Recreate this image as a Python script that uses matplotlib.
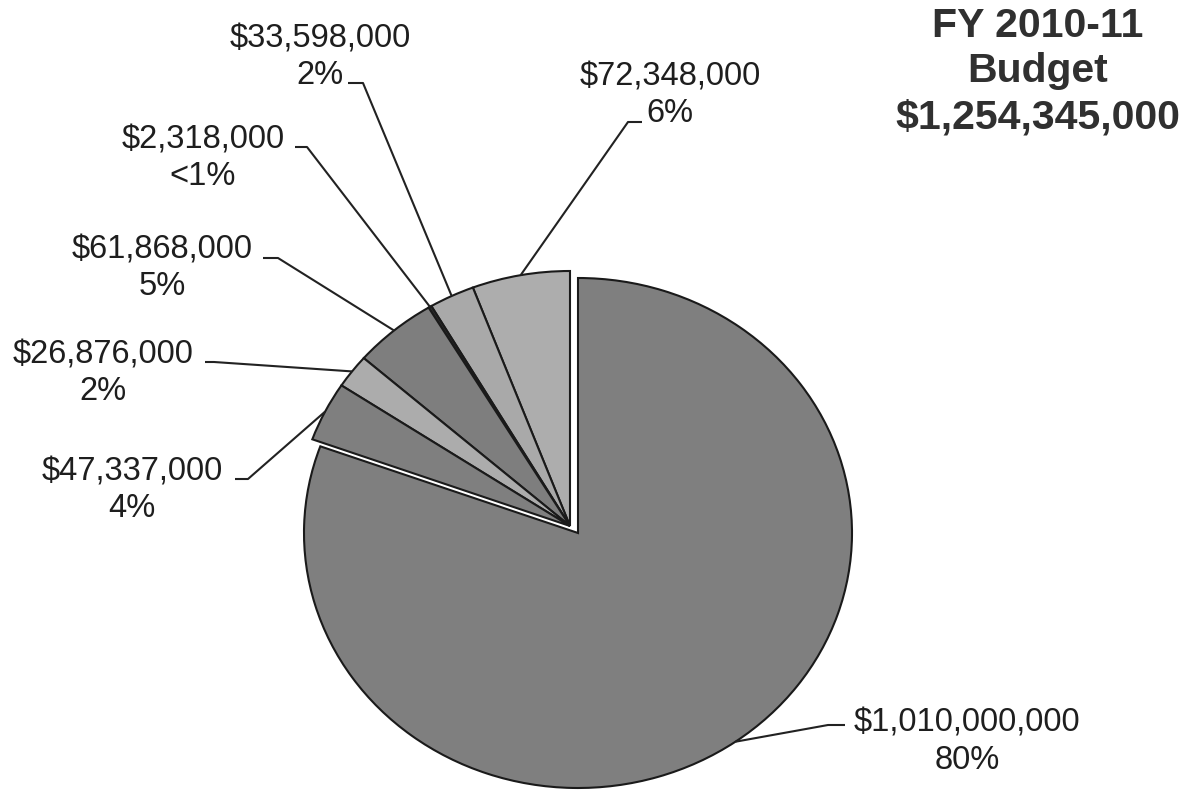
import matplotlib
matplotlib.use("Agg")
import matplotlib.pyplot as plt
import numpy as np

# ---- data ----
categories = ["Slice A", "Slice B", "Slice C", "Slice D", "Slice E", "Slice F", "Slice G"]
amounts = [72348000, 33598000, 2318000, 61868000, 26876000, 47337000, 1010000000]
pct_labels = ["6%", "2%", "<1%", "5%", "2%", "4%", "80%"]
colors = ["#adadad", "#a9a9a9", "#2e2e2e", "#7e7e7e", "#acacac", "#7f7f7f", "#7f7f7f"]
title_lines = ["FY 2010-11", "Budget", "$1,254,345,000"]

W, H = 1194, 791
fig = plt.figure(figsize=(W / 100, H / 100), dpi=100)
ax = fig.add_axes([0, 0, 1, 1])

# pixel geometry of the (slightly elliptical, scanned) pie
CX, CY, RX, RY = 578, 533, 274, 255


def p2d(px, py):
    return ((px - CX) / RX, (CY - py) / RY)


wedges, _ = ax.pie(amounts, colors=colors, startangle=90, counterclock=True,
                   radius=1.0, center=(0, 0),
                   wedgeprops=dict(edgecolor="#1a1a1a", linewidth=1.5))
ax.set_aspect("auto")
ax.set_xlim(-CX / RX, (W - CX) / RX)
ax.set_ylim(-(H - CY) / RY, CY / RY)
ax.axis("off")

# the small slices are pulled out together as a group
shift = (-8 / RX, 7 / RY)
for w in wedges[:-1]:
    w.set_center(shift)

# label layout (pixel positions): text centre x, baseline of first line,
# start of horizontal stub, end of stub
layout = [
    (670, 85, (628, 122), (642, 122)),
    (320, 47, (363, 83), (348, 83)),
    (203, 148, (307, 147), (295, 147)),
    (162, 258, (278, 258), (263, 258)),
    (103, 363, (214, 362), (205, 362)),
    (132, 480, (248, 479), (235, 479)),
    (967, 732, (828, 725), (845, 725)),
]

fs = 23.5
for w, amt, pct, (tx, ty, s0, s1) in zip(wedges, amounts, pct_labels, layout):
    x, y = p2d(tx, ty)
    ax.text(x, y, f"${amt:,}", ha="center", va="baseline", fontsize=fs,
            family="Liberation Sans", color="#1e1e1e")
    x2, y2 = p2d(tx, ty + 37)
    ax.text(x2, y2, pct, ha="center", va="baseline", fontsize=fs,
            family="Liberation Sans", color="#1e1e1e")
    mid = np.deg2rad((w.theta1 + w.theta2) / 2)
    cx, cy = w.center
    ex, ey = cx + w.r * np.cos(mid), cy + w.r * np.sin(mid)
    a = p2d(*s1)
    b = p2d(*s0)
    ax.plot([a[0], b[0], ex], [a[1], b[1], ey], color="#222222", lw=1.5,
            solid_capstyle="butt")

# title
for line, base in zip(title_lines, [37, 82, 128]):
    x, y = p2d(1038, base)
    ax.text(x, y, line, ha="center", va="baseline", fontsize=29.5,
            fontweight="bold", family="Liberation Sans", color="#303030")

fig.savefig("out.png", dpi=100)
